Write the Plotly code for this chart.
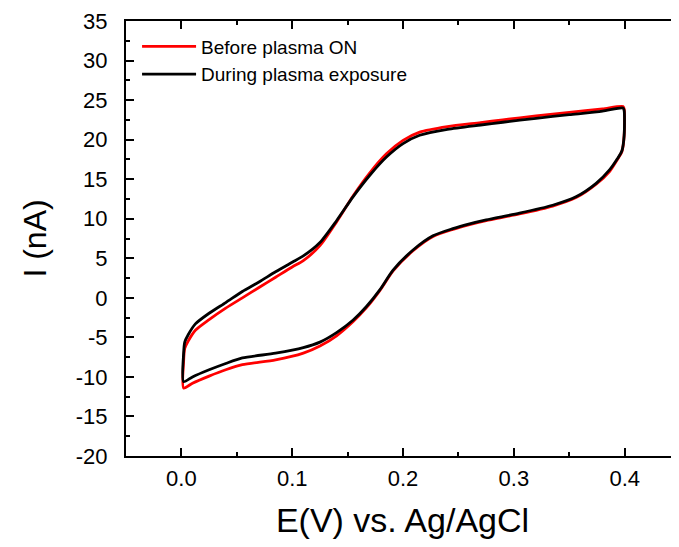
import plotly.graph_objects as go

# Forward scan (0 -> 0.4 V)
E_fwd = [0.002, 0.002, 0.003, 0.006, 0.0126, 0.025, 0.04, 0.055, 0.07, 0.085, 0.10, 0.11, 0.125,
         0.14, 0.155, 0.17, 0.185, 0.20, 0.215, 0.24, 0.27, 0.29, 0.32, 0.35, 0.38, 0.3985]
I_black_fwd = [-10.6, -7.0, -5.6, -4.7, -3.3, -1.95, -0.6, 0.8, 2.0, 3.3, 4.5, 5.3, 7.0,
               9.75, 12.8, 15.5, 17.8, 19.5, 20.55, 21.3, 21.85, 22.2, 22.7, 23.15, 23.6, 24.0]
I_red_fwd = [-11.4, -8.0, -6.4, -5.5, -4.1, -2.75, -1.3, 0.0, 1.3, 2.6, 3.9, 4.7, 6.6,
             9.6, 12.9, 15.8, 18.2, 19.9, 20.95, 21.65, 22.15, 22.5, 23.0, 23.45, 23.9, 24.2]

# Reverse scan (0.4 -> 0 V)
E_rev = [0.3995, 0.3995, 0.3975, 0.3935, 0.3865, 0.3745, 0.3565, 0.335, 0.305, 0.275, 0.26,
         0.245, 0.227, 0.209, 0.191, 0.179, 0.167, 0.155, 0.14, 0.125, 0.11, 0.085, 0.055,
         0.04, 0.025, 0.01, 0.002]
I_black_rev = [23.7, 20.5, 18.6, 17.6, 16.2, 14.5, 12.8, 11.7, 10.7, 9.85, 9.35,
               8.75, 7.85, 6.05, 3.5, 1.0, -1.1, -2.8, -4.4, -5.6, -6.3, -7.0, -7.6,
               -8.3, -9.1, -10.0, -10.6]
I_red_rev = [23.9, 20.5, 18.5, 17.5, 16.0, 14.4, 12.7, 11.6, 10.6, 9.75, 9.25,
             8.65, 7.75, 5.95, 3.4, 0.9, -1.25, -3.0, -4.8, -6.1, -7.0, -7.85, -8.45,
             -9.1, -9.9, -10.8, -11.4]

series_names = ["Before plasma ON", "During plasma exposure"]
series_colors = ["#ff0000", "#000000"]

x_ticks = [0.0, 0.1, 0.2, 0.3, 0.4]
x_ticktext = ["0.0", "0.1", "0.2", "0.3", "0.4"]
y_ticks = list(range(-20, 36, 5))
y_ticktext = [str(v) for v in y_ticks]  # plain hyphen-minus

FONT = "Arial, Liberation Sans, sans-serif"

fig = go.Figure()
fig.add_trace(go.Scatter(x=E_fwd + E_rev, y=I_red_fwd + I_red_rev, mode="lines",
                         name=series_names[0],
                         line=dict(color=series_colors[0], width=2.8, shape="spline",
                                   smoothing=0.7)))
fig.add_trace(go.Scatter(x=E_fwd + E_rev, y=I_black_fwd + I_black_rev, mode="lines",
                         name=series_names[1],
                         line=dict(color=series_colors[1], width=2.8, shape="spline",
                                   smoothing=0.7)))
# empty trace that carries the right-hand tick marks
fig.add_trace(go.Scatter(x=[None], y=[None], yaxis="y2", showlegend=False, hoverinfo="skip"))

tick_style = dict(ticks="inside", tickcolor="black", tickwidth=1.6, ticklen=8)
axis_common = dict(showgrid=False, zeroline=False, linecolor="black", linewidth=2,
                   showline=True, automargin=False,
                   tickfont=dict(family=FONT, size=22, color="black"), **tick_style)

fig.update_layout(
    width=671, height=539,
    margin=dict(l=118, r=0, t=13, b=91),
    paper_bgcolor="white", plot_bgcolor="white",
    font=dict(family=FONT, color="black"),
    showlegend=True,
    legend=dict(x=0.02, y=0.985, xanchor="left", yanchor="top",
                bgcolor="rgba(0,0,0,0)", borderwidth=0,
                font=dict(family=FONT, size=19, color="black"),
                tracegroupgap=0, itemwidth=54),
    xaxis=dict(range=[-0.05, 0.449], tickvals=x_ticks, ticktext=x_ticktext,
               mirror="ticks",
               minor=dict(ticks="inside", dtick=0.05, tick0=0, ticklen=4,
                          tickwidth=1.6, tickcolor="black"),
               title=dict(text="E(V) vs. Ag/AgCl", font=dict(family=FONT, size=34, color="black"),
                          standoff=18),
               ticklabelstandoff=2,
               **axis_common),
    yaxis=dict(range=[-20, 35], tickvals=y_ticks, ticktext=y_ticktext, mirror=False,
               minor=dict(ticks="inside", dtick=2.5, tick0=0, ticklen=4,
                          tickwidth=1.6, tickcolor="black"),
               title=dict(text="I (nA)", font=dict(family=FONT, size=32, color="black"),
                          standoff=20),
               ticklabelstandoff=12,
               **axis_common),
    yaxis2=dict(range=[-20, 35], overlaying="y", side="right", showline=False,
                tickvals=y_ticks, showticklabels=False, showgrid=False, zeroline=False,
                minor=dict(ticks="inside", dtick=2.5, tick0=0, ticklen=4,
                           tickwidth=1.6, tickcolor="black"),
                **tick_style),
)

fig.write_html("out.html")
